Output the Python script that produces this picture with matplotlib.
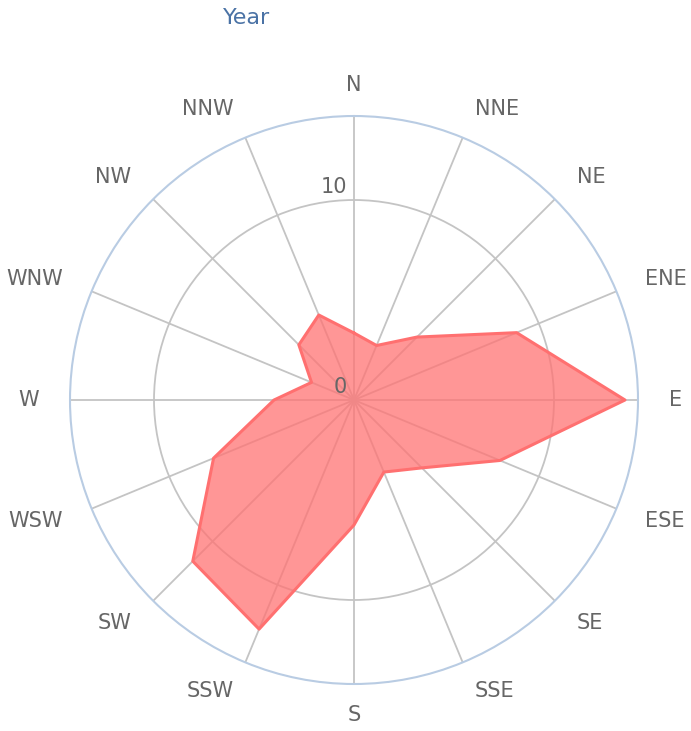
import numpy as np
import matplotlib.pyplot as plt

# wind directions and yearly frequency
directions = ['N', 'NNE', 'NE', 'ENE', 'E', 'ESE', 'SE', 'SSE',
              'S', 'SSW', 'SW', 'WSW', 'W', 'WNW', 'NW', 'NNW']
values = [3.35, 2.95, 4.45, 8.8, 13.55, 7.9, 4.8, 3.9,
          6.25, 12.4, 11.4, 7.6, 4.0, 2.3, 3.9, 4.6]
radial_ticks = [0, 10]
r_max = 14.2

fig = plt.figure(figsize=(6.91, 7.31), dpi=100)
ax = fig.add_axes([0.1013, 0.0643, 0.822, 0.777], projection='polar')
ax.set_theta_zero_location('N')
ax.set_theta_direction(-1)
ax.set_axisbelow(True)

theta = np.deg2rad(np.arange(len(directions)) * 360 / len(directions))
ax.set_ylim(0, r_max)
ax.set_xticks(theta)
ax.set_xticklabels([])
ax.set_yticks(radial_ticks)
ax.set_yticklabels([])
ax.grid(True, color='#c4c4c4', lw=1.3)
ax.spines['polar'].set_color('#b9cce3')
ax.spines['polar'].set_linewidth(1.5)
ax.tick_params(length=0)

t = np.append(theta, theta[0])
v = np.append(values, values[0])
ax.fill(t, v, color='#ff7373', alpha=0.75, lw=0, zorder=2)
ax.plot(t, v, color='#ff7070', lw=2.2, zorder=3)

# labels: left-aligned on the right half, right-aligned on the left half
for th, name in zip(theta, directions):
    s = np.sin(th)
    if abs(s) < 1e-6:
        ha = 'center'
    elif s > 0:
        ha = 'left'
    else:
        ha = 'right'
    ax.text(th, 15.75, name, ha=ha, va='center', fontsize=15,
            color='#666666', clip_on=False)

for rv in radial_ticks:
    ax.annotate(str(rv), xy=(0, rv), xytext=(-5, 2), textcoords='offset points',
                ha='right', va='bottom', fontsize=15, color='#666666')

fig.text(247 / 691, 1 - 18 / 731, 'Year', ha='center', va='center',
         fontsize=16, color='#4a72a5')

plt.savefig('out.png', dpi=100)
